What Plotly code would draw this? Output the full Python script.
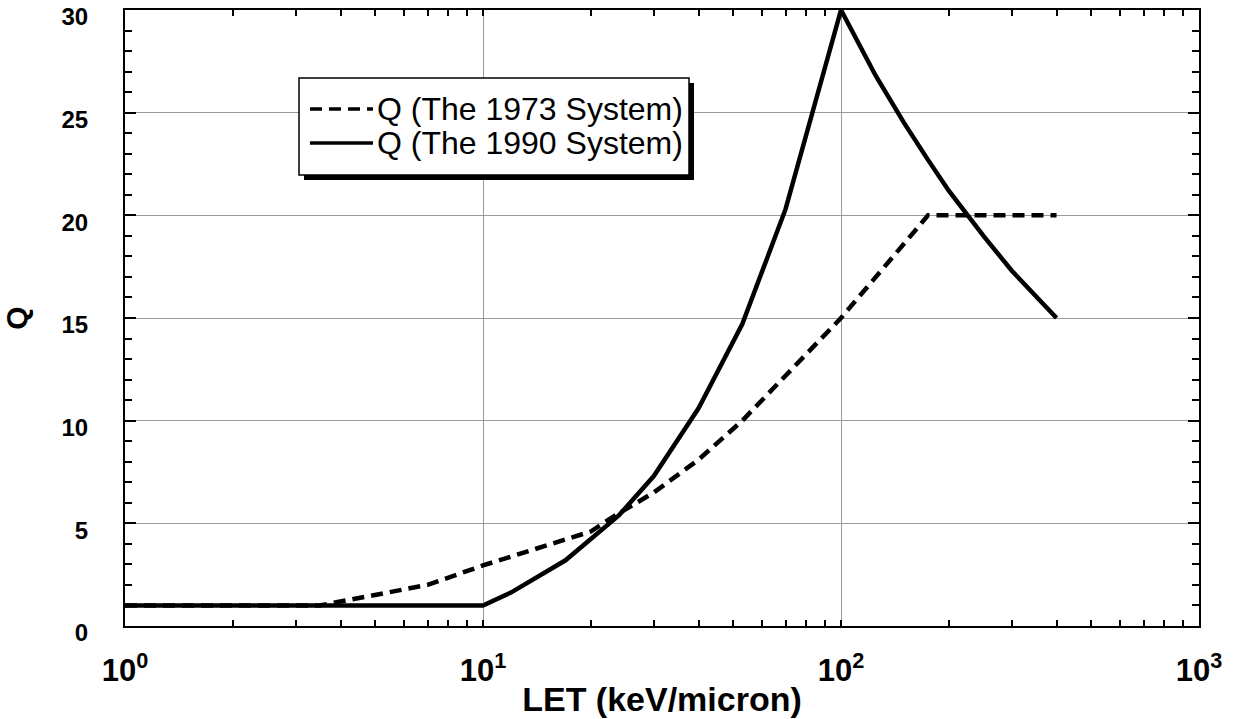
import plotly.graph_objects as go

# ---- data ----
let_1973 = [1, 3.5, 7, 10, 20, 23, 30, 40, 53, 100, 175, 400]
q_1973 = [1, 1, 2, 2.95, 4.6, 5.3, 6.5, 8.1, 10, 15, 20, 20]

let_1990 = [1, 10, 12, 17, 24, 30, 40, 53, 70, 100, 125, 150, 175, 200, 250, 300, 400]
q_1990 = [1, 1, 1.64, 3.2, 5.4, 7.3, 10.6, 14.7, 20.3, 30, 26.8, 24.5, 22.7, 21.2, 19.0, 17.3, 15.0]

series_names = ["Q (The 1973 System)", "Q (The 1990 System)"]
x_tickvals = [1, 10, 100, 1000]
x_ticktext = ["10<sup>0</sup>", "10<sup>1</sup>", "10<sup>2</sup>", "10<sup>3</sup>"]
y_tickvals = [0, 5, 10, 15, 20, 25, 30]

# ---- layout geometry (pixels) ----
W, H = 1239, 719
ML, MR, MT, MB = 125, 40, 10, 93
PW, PH = W - ML - MR, H - MT - MB


def px(x):
    return (x - ML) / PW


def py(y):
    return (H - MB - y) / PH


FONT = "Liberation Sans, Arial, sans-serif"

fig = go.Figure()
fig.add_trace(go.Scatter(x=let_1973, y=q_1973, mode="lines", name=series_names[0],
                         line=dict(color="black", width=4.5, dash="12px,7px"),
                         showlegend=False))
fig.add_trace(go.Scatter(x=let_1990, y=q_1990, mode="lines", name=series_names[1],
                         line=dict(color="black", width=4.5),
                         showlegend=False))

# ---- legend box drawn by hand (with drop shadow) ----
lx0, ly0, lx1, ly1 = 299, 78, 689, 175
shadow = 5
fig.add_shape(type="rect", xref="paper", yref="paper",
              x0=px(lx0 + shadow), x1=px(lx1 + shadow), y0=py(ly1 + shadow), y1=py(ly0 + shadow),
              fillcolor="black", line=dict(width=0), layer="above")
fig.add_shape(type="rect", xref="paper", yref="paper",
              x0=px(lx0), x1=px(lx1), y0=py(ly1), y1=py(ly0),
              fillcolor="white", line=dict(color="black", width=1.5), layer="above")
rows = [(109, "12px,7px", series_names[0]), (143, "solid", series_names[1])]
for yy, dash, label in rows:
    fig.add_shape(type="line", xref="paper", yref="paper",
                  x0=px(310), x1=px(373), y0=py(yy), y1=py(yy),
                  line=dict(color="black", width=3.5, dash=dash), layer="above")
    fig.add_annotation(xref="paper", yref="paper", x=px(375), y=py(yy),
                       xanchor="left", yanchor="middle", showarrow=False,
                       text=label, font=dict(family=FONT, size=32, color="black"))

fig.update_layout(
    width=W, height=H,
    margin=dict(l=ML, r=MR, t=MT, b=MB, autoexpand=False),
    paper_bgcolor="white", plot_bgcolor="white",
    showlegend=False,
    font=dict(family=FONT, color="black"),
)

fig.update_xaxes(
    type="log", range=[0, 3], automargin=True,
    tickvals=x_tickvals, ticktext=x_ticktext,
    tickfont=dict(family=FONT, size=31, weight="bold"),
    ticks="inside", ticklen=6, tickwidth=1.5, tickcolor="black",
    ticklabelstandoff=16,
    showline=True, linecolor="black", linewidth=2, mirror="allticks",
    showgrid=True, gridcolor="#9a9a9a", gridwidth=1,
    minor=dict(ticks="inside", ticklen=6, tickwidth=1.5, tickcolor="black",
               dtick="D1", showgrid=False),
    title=dict(text="LET (keV/micron)", font=dict(family=FONT, size=34, weight="bold"),
               standoff=0),
    zeroline=False,
)
fig.update_yaxes(
    range=[0, 30], automargin=True,
    tickvals=y_tickvals,
    tickfont=dict(family=FONT, size=24, weight="bold"),
    ticks="inside", ticklen=11, tickwidth=2, tickcolor="black",
    ticklabelstandoff=30, ticklabelshift=7,
    showline=True, linecolor="black", linewidth=2, mirror="allticks",
    showgrid=True, gridcolor="#9a9a9a", gridwidth=1,
    minor=dict(ticks="inside", ticklen=7, tickwidth=2, tickcolor="black",
               dtick=1, showgrid=False),
    title=dict(text="Q", font=dict(family=FONT, size=30, weight="bold"), standoff=26),
    zeroline=False,
)

fig.write_html("out.html")
